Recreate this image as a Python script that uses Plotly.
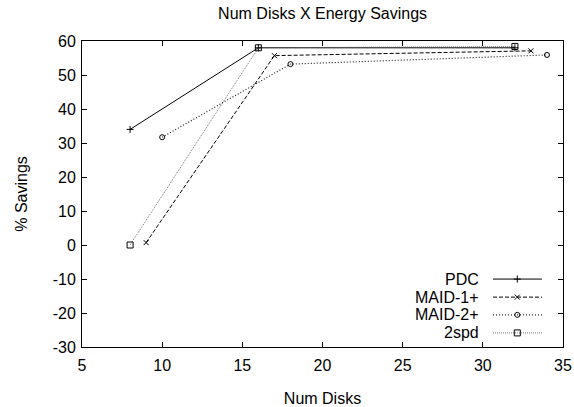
import plotly.graph_objects as go

# Data
series_names = ["PDC", "MAID-1+", "MAID-2+", "2spd"]
pdc_x = [8, 16, 32]
pdc_y = [34.0, 58.0, 58.0]
maid1_x = [9, 17, 33]
maid1_y = [0.7, 55.7, 57.1]
maid2_x = [10, 18, 34]
maid2_y = [31.7, 53.2, 55.9]
spd_x = [8, 16, 32]
spd_y = [0.0, 58.0, 58.4]

x_ticks = [5, 10, 15, 20, 25, 30, 35]
y_ticks = [-30, -20, -10, 0, 10, 20, 30, 40, 50, 60]
x_tick_text = [str(v) for v in x_ticks]
y_tick_text = [str(v) for v in y_ticks]  # ASCII hyphen minus like the original

styles = [
    dict(color="black", dash="solid", symbol="cross-thin", size=5, lw=1.0),
    dict(color="black", dash="4px,2px", symbol="x-thin", size=5, lw=1.0),
    dict(color="#222222", dash="1px,2px", symbol="circle-open", size=5, lw=1.2),
    dict(color="#555555", dash="1px,1px", symbol="square-open", size=6, lw=0.8),
]
xs = [pdc_x, maid1_x, maid2_x, spd_x]
ys = [pdc_y, maid1_y, maid2_y, spd_y]

FONT = "Liberation Sans, Arial, sans-serif"
FS = 16
fig = go.Figure()
for name, x, y, st in zip(series_names, xs, ys, styles):
    fig.add_trace(go.Scatter(
        x=x, y=y, name=name, mode="lines+markers", showlegend=False,
        line=dict(color=st["color"], dash=st["dash"], width=st["lw"]),
        marker=dict(symbol=st["symbol"], size=st["size"], color="black",
                    line=dict(color="black", width=1)),
    ))

# Manual gnuplot-style legend (text left, sample right)
leg_rows = [0.222, 0.163, 0.105, 0.046]
for name, st, ry in zip(series_names, styles, leg_rows):
    fig.add_trace(go.Scatter(
        x=[0.8545, 0.9563], y=[ry, ry], xaxis="x2", yaxis="y2",
        mode="lines", showlegend=False, hoverinfo="skip",
        line=dict(color=st["color"], dash=st["dash"], width=st["lw"]),
    ))
    fig.add_trace(go.Scatter(
        x=[0.905], y=[ry], xaxis="x2", yaxis="y2",
        mode="markers", showlegend=False, hoverinfo="skip",
        marker=dict(symbol=st["symbol"], size=st["size"], color="black",
                    line=dict(color="black", width=1)),
    ))
    fig.add_annotation(
        x=0.8295, y=ry, xref="paper", yref="paper", text=name,
        showarrow=False, xanchor="right", yanchor="middle",
        font=dict(family=FONT, size=FS, color="black"),
    )

axis_common = dict(
    showline=True, linecolor="black", linewidth=1, mirror="ticks",
    ticks="inside", ticklen=5, tickcolor="black", showgrid=False,
    zeroline=False, automargin=False,
    tickfont=dict(family=FONT, size=FS, color="black"),
)
fig.update_layout(
    width=574, height=407,
    margin=dict(l=82, r=11, t=41, b=60),
    paper_bgcolor="white", plot_bgcolor="white",
    title=dict(text="Num Disks X Energy Savings", x=0.562, xanchor="center",
               y=0.966, yanchor="middle",
               font=dict(family=FONT, size=FS, color="black")),
    xaxis=dict(range=[5, 35], tickvals=x_ticks, ticktext=x_tick_text,
               ticklabelstandoff=4,
               title=dict(text="Num Disks", standoff=19,
                          font=dict(family=FONT, size=FS, color="black")),
               **axis_common),
    yaxis=dict(range=[-30, 60], tickvals=y_ticks, ticktext=y_tick_text,
               ticklabelstandoff=2,
               title=dict(text="% Savings", standoff=21,
                          font=dict(family=FONT, size=FS, color="black")),
               **axis_common),
    xaxis2=dict(overlaying="x", range=[0, 1], visible=False),
    yaxis2=dict(overlaying="y", range=[0, 1], visible=False),
)

fig.write_html("out.html")
